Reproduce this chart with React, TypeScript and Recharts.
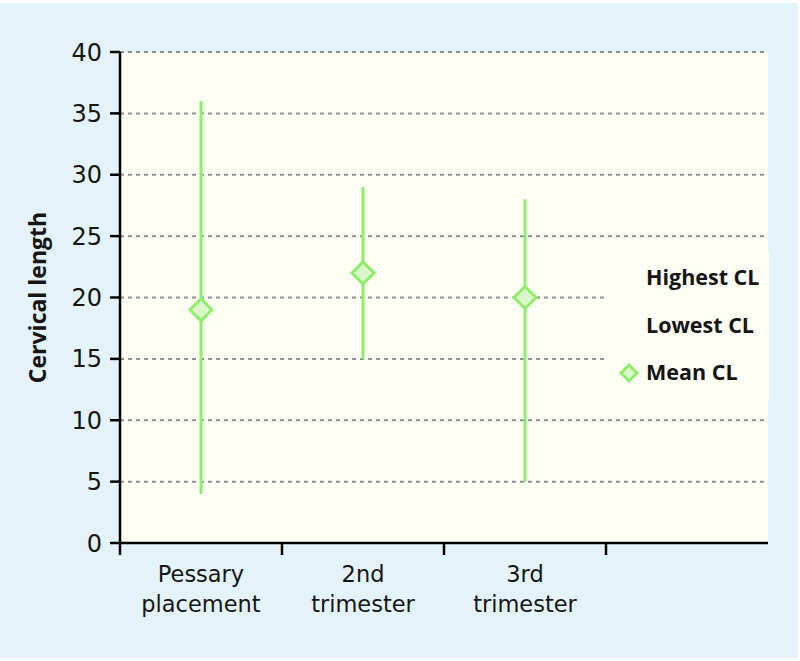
import { ComposedChart, Bar, Line, XAxis, YAxis, CartesianGrid, Legend, Label } from 'recharts'

const categories = ['Pessary\nplacement', '2nd\ntrimester', '3rd\ntrimester', '']
const highestCL = [36, 29, 28, null]
const lowestCL = [4, 15, 5, null]
const meanCL = [19, 22, 20, null]
const yTicks = [0, 5, 10, 15, 20, 25, 30, 35, 40]
const legendLabels = ['Highest CL', 'Lowest CL', 'Mean CL']

const TICK_FONT = '"DejaVu Sans", sans-serif'
const BOLD_FONT = '"Open Sans", sans-serif'
const GREEN = '#8def68'
const DIAMOND_FILL = '#dbf6cc'
const CREAM = '#fefef5'
const SKY = '#e3f3f9'

const data = categories.map((name, i) => ({
  name,
  range: highestCL[i] == null ? null : [lowestCL[i], highestCL[i]],
  mean: meanCL[i],
}))

function RangeLine(props: any) {
  const { x, y, width, height } = props
  if (x == null || height == null || !width) return null
  const cx = x + width / 2
  const top = Math.min(y, y + height)
  const bottom = Math.max(y, y + height)
  return <line x1={cx} x2={cx} y1={top} y2={bottom} stroke={GREEN} strokeWidth={3} />
}

function Diamond({ cx, cy, r = 10 }: { cx: number; cy: number; r?: number }) {
  return (
    <path
      d={`M${cx},${cy - r} L${cx + r},${cy} L${cx},${cy + r} L${cx - r},${cy} Z`}
      fill={DIAMOND_FILL}
      stroke={GREEN}
      strokeWidth={3}
    />
  )
}

function MeanDot(props: any) {
  const { cx, cy, value, index } = props
  if (value == null || cy == null) return <g key={index} />
  return <Diamond key={index} cx={cx} cy={cy} r={11} />
}

// category labels sit in the middle of each band, tick marks at the band's left edge
function XTick(props: any) {
  const { x, y, payload, index } = props
  const half = 81
  const lines = String(payload.value).split('\n')
  return (
    <g key={index}>
      <line x1={x - half} x2={x - half} y1={y} y2={y + 12} stroke="#000" strokeWidth={2.5} />
      {lines.map((t, i) => (
        <text
          key={i}
          x={x}
          y={y + 39 + i * 30}
          textAnchor="middle"
          fontFamily={TICK_FONT}
          fontSize={22.5}
          fill="#161616"
        >
          {t}
        </text>
      ))}
    </g>
  )
}

function LegendBox() {
  return (
    <div style={{ width: 162, height: 148, background: CREAM, position: 'relative' }}>
      {legendLabels.map((label, i) => (
        <div
          key={label}
          style={{
            position: 'absolute',
            left: 39,
            top: 9 + i * 47.5,
            fontFamily: BOLD_FONT,
            fontWeight: 700,
            fontSize: 21.5,
            lineHeight: '32px',
            color: '#151515',
            whiteSpace: 'nowrap',
          }}
        >
          {label}
        </div>
      ))}
      <svg width={30} height={30} style={{ position: 'absolute', left: 7, top: 106 }}>
        <Diamond cx={15} cy={15} r={8} />
      </svg>
    </div>
  )
}

export default function App() {
  return (
    <div style={{ position: 'absolute', left: 0, top: 0, width: 800, height: 661, background: '#fff' }}>
      <div style={{ position: 'absolute', left: 0, top: 3, width: 798, height: 655, background: SKY }} />
      <div style={{ position: 'absolute', left: 0, top: 0 }}>
        <ComposedChart
          width={800}
          height={661}
          data={data}
          margin={{ top: 52, right: 32, bottom: 58, left: 60 }}
          barCategoryGap={0}
        >
          <CartesianGrid
            vertical={false}
            stroke="#8a9294"
            strokeWidth={2}
            strokeDasharray="4 4"
            fill={CREAM}
          />
          <XAxis
            dataKey="name"
            height={60}
            axisLine={{ stroke: '#000', strokeWidth: 2.5 }}
            tickLine={false}
            tickSize={0}
            tickMargin={0}
            interval={0}
            tick={<XTick />}
          />
          <YAxis
            width={60}
            domain={[0, 40]}
            ticks={yTicks}
            interval={0}
            axisLine={{ stroke: '#000', strokeWidth: 2.5 }}
            tickLine={{ stroke: '#000', strokeWidth: 2.5 }}
            tickSize={10}
            tickMargin={8}
            tick={{ fontFamily: TICK_FONT, fontSize: 24, fill: '#161616' }}
          >
            <Label
              value="Cervical length"
              angle={-90}
              position="insideLeft"
              offset={-22}
              fontSize={23}
              style={{ fontFamily: BOLD_FONT, fontWeight: 700, fontSize: 23, fill: '#151515', textAnchor: 'middle' }}
            />
          </YAxis>
          <Bar dataKey="range" shape={<RangeLine />} isAnimationActive={false} legendType="none" />
          <Line
            dataKey="mean"
            stroke="none"
            dot={<MeanDot />}
            activeDot={false}
            isAnimationActive={false}
            legendType="none"
          />
          <Legend
            layout="vertical"
            align="center"
            verticalAlign="middle"
            content={<LegendBox />}
            wrapperStyle={{ position: 'absolute', left: 607, top: 252, width: 162, height: 148 }}
          />
        </ComposedChart>
      </div>
    </div>
  )
}
